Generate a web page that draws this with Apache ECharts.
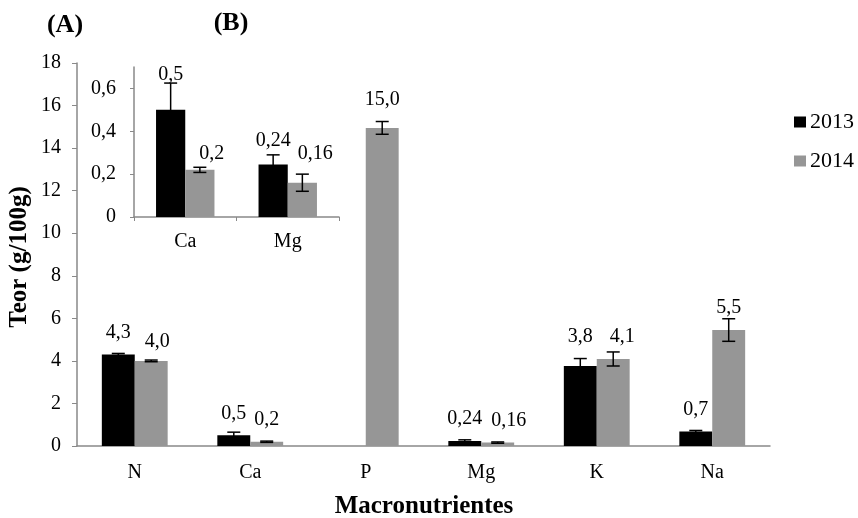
<!DOCTYPE html>
<html><head><meta charset="utf-8">
<script src="https://cdn.jsdelivr.net/npm/echarts@6/dist/echarts.min.js"></script>
<style>html,body{margin:0;padding:0;background:#fff}#c{width:858px;height:518px}</style>
</head><body><div id="c"></div>
<script>
// ---- data ----
const categories = ['N', 'Ca', 'P', 'Mg', 'K', 'Na'];
const values2013 = [4.3, 0.5, null, 0.24, 3.76, 0.68];
const values2014 = [4.0, 0.2, 14.95, 0.16, 4.09, 5.45];
const errors2013 = [0.05, 0.15, 0, 0.05, 0.35, 0.05];
const errors2014 = [0.04, 0.03, 0.3, 0.03, 0.33, 0.53];
const labels2013 = ['4,3', '0,5', '', '0,24', '3,8', '0,7'];
const labels2014 = ['4,0', '0,2', '15,0', '0,16', '4,1', '5,5'];

const insetCategories = ['Ca', 'Mg'];
const inset2013 = [0.5, 0.245];
const inset2014 = [0.22, 0.16];
const insetErrors2013 = [0.125, 0.045];
const insetErrors2014 = [0.012, 0.04];
const insetLabels2013 = ['0,5', '0,24'];
const insetLabels2014 = ['0,2', '0,16'];

const seriesNames = ['2013', '2014'];

// ---- styling ----
const FONT = 'Liberation Serif, Times New Roman, serif';
const C2013 = '#000000';
const C2014 = '#969696';
const AXIS = '#898989';
const BAR_FRAC = 0.285;
const FS = 20;

// label tweaks (distance above bar top, horizontal nudge)
const tweakMain2013 = {4: {d: 19}};
const tweakMain2014 = {0: {d: 9, dx: 6}, 2: {d: 18}, 3: {dx: 11}, 4: {dx: 9}};
const tweakIn2013 = {0: {d: 25}, 1: {d: 14}};
const tweakIn2014 = {0: {d: 6, dx: 12}, 1: {d: 19, dx: 13}};

function barSeries(name, color, xi, yi, vals, labs, tweaks) {
  return {
    name, type: 'bar', xAxisIndex: xi, yAxisIndex: yi,
    barWidth: (BAR_FRAC * 100) + '%', barGap: '0%',
    itemStyle: {color},
    z: 2,
    data: vals.map((v, i) => {
      const t = tweaks[i] || {};
      return {value: v, label: {distance: t.d != null ? t.d : 12, offset: [t.dx || 0, 0]}};
    }),
    label: {
      show: true, position: 'top', color: '#000', fontFamily: FONT, fontSize: FS,
      formatter: p => labs[p.dataIndex]
    }
  };
}

function errorSeries(xi, yi, vals, errs, side) {
  const data = [];
  vals.forEach((v, i) => { if (v != null && errs[i]) data.push([i, v, errs[i]]); });
  return {
    type: 'custom', xAxisIndex: xi, yAxisIndex: yi, silent: true, z: 5,
    encode: {x: 0, y: 1},
    data,
    renderItem(params, api) {
      const i = api.value(0), v = api.value(1), e = api.value(2);
      const cw = api.size([1, 0])[0];
      const off = side * cw * BAR_FRAC / 2;
      const top = api.coord([i, v + e]);
      const bot = api.coord([i, v - e]);
      const x = top[0] + off;
      const hw = 6.5;
      const st = {stroke: '#000', lineWidth: 1.5};
      return {type: 'group', children: [
        {type: 'line', shape: {x1: x, y1: top[1], x2: x, y2: bot[1]}, style: st},
        {type: 'line', shape: {x1: x - hw, y1: top[1], x2: x + hw, y2: top[1]}, style: st},
        {type: 'line', shape: {x1: x - hw, y1: bot[1], x2: x + hw, y2: bot[1]}, style: st}
      ]};
    }
  };
}

const chart = echarts.init(document.getElementById('c'), null, {renderer: 'canvas'});
chart.setOption({
  animation: false,
  backgroundColor: '#fff',
  textStyle: {fontFamily: FONT},
  legend: {
    data: seriesNames, orient: 'vertical', left: 789, top: 106,
    icon: 'rect', itemWidth: 12, itemHeight: 11, itemGap: 17,
    textStyle: {fontFamily: FONT, fontSize: 22, color: '#000', padding: [0, 0, 0, -1]}
  },
  grid: [
    {left: 77, right: 88, top: 63, bottom: 72},
    {left: 134, width: 205, top: 67, height: 150}
  ],
  xAxis: [
    {type: 'category', gridIndex: 0, data: categories,
      axisLine: {lineStyle: {color: AXIS, width: 1.5}},
      axisTick: {show: false},
      axisLabel: {color: '#000', fontFamily: FONT, fontSize: FS, margin: 17}},
    {type: 'category', gridIndex: 1, data: insetCategories,
      axisLine: {lineStyle: {color: AXIS, width: 1.5}},
      axisTick: {show: true, length: 4, lineStyle: {color: AXIS}},
      axisLabel: {color: '#000', fontFamily: FONT, fontSize: FS, margin: 15}}
  ],
  yAxis: [
    {type: 'value', gridIndex: 0, min: 0, max: 18, interval: 2,
      axisLine: {show: true, lineStyle: {color: AXIS, width: 1.5}},
      axisTick: {show: true, length: 5, lineStyle: {color: AXIS}},
      splitLine: {show: false},
      axisLabel: {color: '#000', fontFamily: FONT, fontSize: FS, margin: 16}},
    {type: 'value', gridIndex: 1, min: 0, max: 0.7, interval: 0.2,
      axisLine: {show: true, lineStyle: {color: AXIS, width: 1.5}},
      axisTick: {show: true, length: 4, lineStyle: {color: AXIS}},
      splitLine: {show: false},
      axisLabel: {color: '#000', fontFamily: FONT, fontSize: FS, margin: 18, showMaxLabel: false,
        formatter: v => v === 0 ? '0' : v.toFixed(1).replace('.', ',')}}
  ],
  series: [
    barSeries(seriesNames[0], C2013, 0, 0, values2013, labels2013, tweakMain2013),
    barSeries(seriesNames[1], C2014, 0, 0, values2014, labels2014, tweakMain2014),
    errorSeries(0, 0, values2013, errors2013, -1),
    errorSeries(0, 0, values2014, errors2014, 1),
    barSeries(seriesNames[0], C2013, 1, 1, inset2013, insetLabels2013, tweakIn2013),
    barSeries(seriesNames[1], C2014, 1, 1, inset2014, insetLabels2014, tweakIn2014),
    errorSeries(1, 1, inset2013, insetErrors2013, -1),
    errorSeries(1, 1, inset2014, insetErrors2014, 1)
  ],
  graphic: [
    {type: 'text', x: 20, y: 257, rotation: Math.PI / 2,
      style: {text: 'Teor (g/100g)', font: 'bold 25px ' + FONT, fill: '#000', align: 'center', verticalAlign: 'middle'}},
    {type: 'text', x: 424, y: 507,
      style: {text: 'Macronutrientes', font: 'bold 25px ' + FONT, fill: '#000', align: 'center', verticalAlign: 'middle'}},
    {type: 'text', x: 65, y: 25,
      style: {text: '(A)', font: 'bold 26px ' + FONT, fill: '#000', align: 'center', verticalAlign: 'middle'}},
    {type: 'text', x: 231, y: 23,
      style: {text: '(B)', font: 'bold 26px ' + FONT, fill: '#000', align: 'center', verticalAlign: 'middle'}}
  ]
});
</script>
</body></html>
